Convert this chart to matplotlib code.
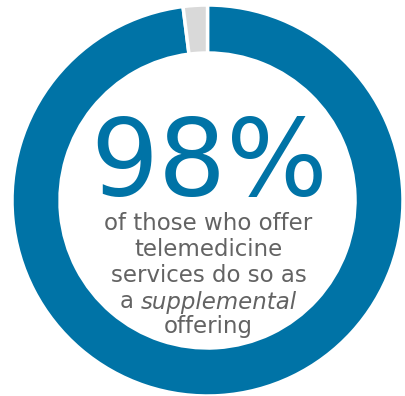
import matplotlib
matplotlib.use('Agg')
import matplotlib.pyplot as plt

# Data: share offering telemedicine as supplemental
labels = ['Supplemental', 'Other']
shares = [98, 2]
colors = ['#0073A6', '#D9D9D9']

big_label = '98%'
caption = ['of those who offer', 'telemedicine', 'services do so as']
last_lines = [('a ', 'supplemental'), ('offering', '')]

W, H = 406, 396
fig = plt.figure(figsize=(W / 100, H / 100), dpi=100)
ax = fig.add_axes([0, 0, 1, 1])

cx, cy, r = 207.5, H - 200.5, 195.5
ax.pie(shares, colors=colors, startangle=90, counterclock=False,
       center=(cx, cy), radius=r, frame=True,
       wedgeprops=dict(width=48, edgecolor='white', linewidth=2.5))
ax.set_xlim(0, W)
ax.set_ylim(0, H)
ax.set_aspect('equal')
ax.axis('off')

font = 'DejaVu Sans'
grey = '#636363'
ax.text(cx + 2, H - 166, big_label, ha='center', va='center', fontsize=77,
        color='#0073A6', family=font)

fs = 16.5
y0 = 224
step = 26
for i, line in enumerate(caption):
    ax.text(cx + 1, H - (y0 + i * step), line, ha='center', va='center',
            fontsize=fs, color=grey, family=font)

# mixed style line: "a supplemental"
renderer = fig.canvas.get_renderer()
ya = H - (y0 + 3 * step)
t1 = ax.text(0, ya, last_lines[0][0], ha='left', va='center', fontsize=fs,
             color=grey, family=font)
t2 = ax.text(0, ya, last_lines[0][1], ha='left', va='center', fontsize=fs,
             color=grey, family=font, style='italic')
w1 = t1.get_window_extent(renderer).width
w2 = t2.get_window_extent(renderer).width
left = cx + 1 - (w1 + w2) / 2
t1.set_x(left)
t2.set_x(left + w1)

ax.text(cx + 1, H - (y0 + 4 * step - 2), last_lines[1][0], ha='center', va='center',
        fontsize=fs, color=grey, family=font)

fig.savefig('out.png', dpi=100)
